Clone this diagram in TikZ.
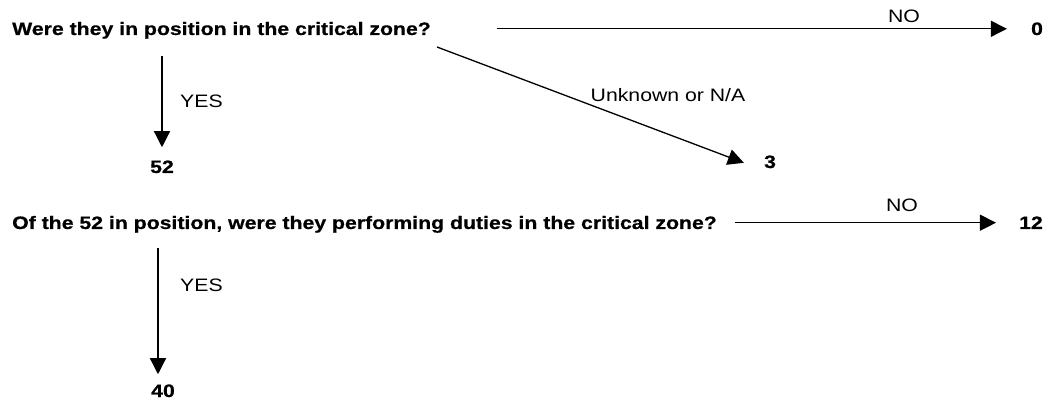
\documentclass[tikz,border=0pt]{standalone}
\usepackage{fontspec}
\setmainfont{Liberation Sans}[FakeStretch=1.18, BoldFeatures={FakeBold=0.6}]
\usetikzlibrary{arrows.meta}
\tikzset{
  lbl/.style={inner sep=0pt, font=\fontsize{18}{21}\selectfont},
  qtext/.style={inner sep=0pt, font=\fontsize{18}{21}\selectfont\bfseries},
  num/.style={inner sep=0pt, font=\fontsize{18}{21}\selectfont\bfseries},
  arr/.style={draw=black, line width=1.3pt, -{Triangle[length=16pt,width=16pt]}}
}
\begin{document}
\begin{tikzpicture}[x=1pt,y=-1pt]
\useasboundingbox (0,0) rectangle (1044,403);
% questions
\node[qtext, anchor=base west] (q1) at (12,35) {Were they in position in the critical zone?};
\node[qtext, anchor=base west] (q2) at (12,229) {Of the 52 in position, were they performing duties in the critical zone?};
% results
\node[num, anchor=base] (n0) at (1037,35) {0};
\node[num, anchor=base] (n3) at (770,168) {3};
\node[num, anchor=base] (n52) at (162,173) {52};
\node[num, anchor=base] (n12) at (1031,229) {12};
\node[num, anchor=base] (n40) at (163,397) {40};
% labels
\node[lbl, anchor=base] (no1) at (904,23) {NO};
\node[lbl, anchor=base] (unk) at (668,102) {Unknown or N/A};
\node[lbl, anchor=base west] (yes1) at (180,108) {YES};
\node[lbl, anchor=base] (no2) at (902,212) {NO};
\node[lbl, anchor=base west] (yes2) at (180,292) {YES};
% connectors
\coordinate (d1) at (437,47);
\draw[arr, shorten <=66pt, shorten >=24pt] (q1.east |- n0.west) -- (n0.west);
\draw[arr] (d1) -- ([xshift=-20pt,yshift=-1pt]n3.west);
\draw[arr, shorten <=17pt, shorten >=13pt] (n52.north |- q1.south) -- (n52.north);
\draw[arr, shorten <=18pt, shorten >=23pt] (q2.east |- n12.west) -- (n12.west);
\draw[arr, shorten <=15pt, shorten >=10pt] ([xshift=-5pt]n40.north |- q2.south) -- ([xshift=-5pt]n40.north);
\end{tikzpicture}
\end{document}
